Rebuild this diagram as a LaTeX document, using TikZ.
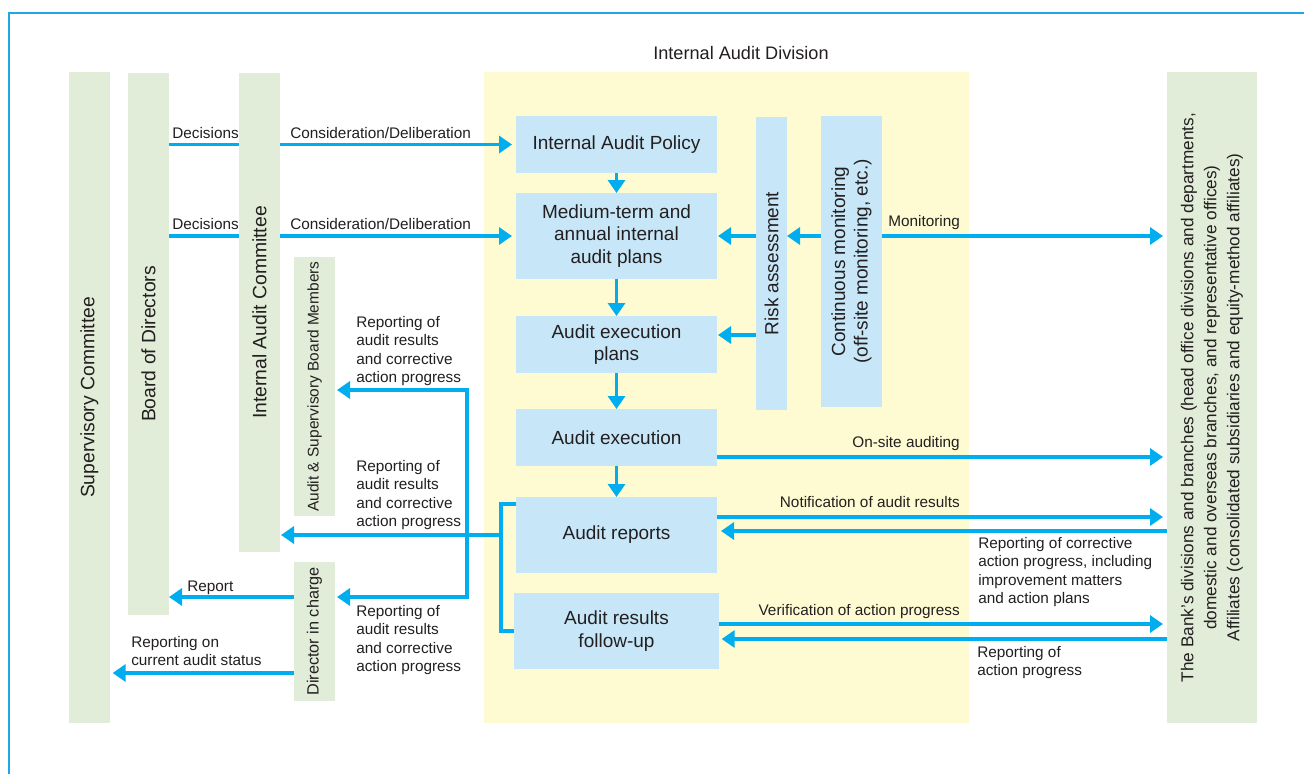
\documentclass[tikz,border=0pt]{standalone}
\usepackage{fontspec}
\setmainfont{Liberation Sans}
\usetikzlibrary{arrows.meta}
\definecolor{arrblue}{HTML}{00AEEF}
\definecolor{framec}{HTML}{1FA8E1}
\definecolor{boxblue}{HTML}{C7E7F8}
\definecolor{colgreen}{HTML}{E1EDD8}
\definecolor{yellowbg}{HTML}{FEFBD2}
\definecolor{txt}{HTML}{231F20}
\newcommand\fBox{\fontsize{14.25}{16.9}\selectfont}
\newcommand\fCol{\fontsize{14.5}{17}\selectfont}
\newcommand\fLbl{\fontsize{11.5}{13.9}\selectfont}
\newcommand\fSmall{\fontsize{11.6}{14}\selectfont}
\newcommand\fDir{\fontsize{12.2}{14}\selectfont}
\newcommand\fBank{\fontsize{12.9}{17.25}\selectfont}
\newcommand\fTitle{\fontsize{13.6}{16}\selectfont}
\begin{document}
\begin{tikzpicture}[x=0.75pt,y=-0.75pt,
  col/.style={fill=colgreen, inner sep=0pt, outer sep=0pt},
  pbox/.style={fill=boxblue, inner sep=0pt, outer sep=0pt, align=center, font=\fBox, text=txt},
  coltxt/.style={rotate=90, inner sep=0pt, font=\fCol, text=txt, align=center},
  lbl/.style={inner sep=0pt, font=\fLbl, text=txt, align=left},
  ln/.style={draw=arrblue, line width=2.5pt},
  arr/.style={ln, -{Triangle[length=9.75pt,width=12.75pt]}}]
\useasboundingbox (0,0) rectangle (1304,774);
\fill[white] (0,0) rectangle (1304,774);
% frame
\draw[framec, line width=1.3pt] (9,774) -- (9,13) -- (1304,13);
% columns
\node[col, minimum width=30.75pt, minimum height=488.25pt] (sup) at (89.5,397.5) {};
\node[coltxt] at (sup.center) {Supervisory Committee};
\node[col, minimum width=30.75pt, minimum height=406.5pt] (bod) at (148.5,344) {};
\node[coltxt] at (bod.center) {Board of Directors};
\node[col, minimum width=30.75pt, minimum height=359.25pt] (iac) at (259.5,312.5) {};
\node[coltxt] at (iac.center) {Internal Audit Committee};
\node[col, minimum width=30.75pt, minimum height=194.25pt] (asb) at (314.5,386.5) {};
\node[coltxt, font=\fSmall] at (asb.center) {Audit \& Supervisory Board Members};
\node[col, minimum width=30.75pt, minimum height=104.25pt] (dic) at (314.5,631.5) {};
\node[coltxt, font=\fDir] at (dic.center) {Director in charge};
\node[fill=yellowbg, inner sep=0pt, outer sep=0pt, minimum width=363.75pt, minimum height=488.25pt] (iad) at (726.5,397.5) {};
\node[lbl, font=\fTitle] at (741,53) {Internal Audit Division};
\node[col, minimum width=67.5pt, minimum height=488.25pt] (bank) at (1212,397.5) {};
\node[coltxt, font=\fBank] at (bank.center) {The Bank's divisions and branches (head office divisions and departments,\\domestic and overseas branches, and representative offices)\\Affiliates (consolidated subsidiaries and equity-method affiliates)};
% process boxes
\node[pbox, minimum width=150.75pt, minimum height=42.75pt] (iap) at (616.5,144.5) {Internal Audit Policy};
\node[pbox, minimum width=150.75pt, minimum height=64.5pt] (mtp) at (616.5,236) {Medium-term and\\annual internal\\audit plans};
\node[pbox, minimum width=150.75pt, minimum height=42.75pt] (aep) at (616.5,344.5) {Audit execution\\plans};
\node[pbox, minimum width=150.75pt, minimum height=42.75pt] (aex) at (616.5,437.5) {Audit execution};
\node[pbox, minimum width=150.75pt, minimum height=57pt] (arp) at (616.5,535) {Audit reports};
\node[pbox, minimum width=153.75pt, minimum height=57pt] (afu) at (616.5,631) {Audit results\\follow-up};
\node[pbox, minimum width=23.25pt, minimum height=219.75pt] (risk) at (771.5,263.5) {};
\node[coltxt, font=\fBox] at (risk.center) {Risk assessment};
\node[pbox, minimum width=45.75pt, minimum height=218.25pt] (cmon) at (851.5,261.5) {};
\node[coltxt, font=\fBox] at (cmon.center) {Continuous monitoring\\(off-site monitoring, etc.)};
% helper coordinates
\coordinate (y335) at (0,335);
\coordinate (y390) at (0,390);
\coordinate (y457) at (0,457);
\coordinate (y517) at (0,517);
\coordinate (y531) at (0,531);
\coordinate (y597) at (0,597);
\coordinate (y624) at (0,624);
\coordinate (y639) at (0,639);
\coordinate (y673) at (0,673);
\coordinate (brT) at (501,504);
\coordinate (sp) at (467,535);
% connectors
\draw[ln] (bod.east |- iap.west) -- (iac.west |- iap.west);
\draw[arr, shorten >=3pt] (iac.east |- iap.west) -- (iap.west);
\draw[ln] (bod.east |- mtp.west) -- (iac.west |- mtp.west);
\draw[arr, shorten >=3pt] (iac.east |- mtp.west) -- (mtp.west);
\draw[arr] (iap.south) -- (mtp.north);
\draw[arr] (mtp.south) -- (aep.north);
\draw[arr] (aep.south) -- (aex.north);
\draw[arr] (aex.south) -- (arp.north);
\draw[arr, shorten >=0.75pt] (risk.west |- mtp.east) -- (mtp.east);
\draw[arr] (cmon.west |- mtp.east) -- (risk.east |- mtp.east);
\draw[arr, shorten >=0.75pt] (risk.west |- y335) -- (aep.east |- y335);
\draw[arr, shorten >=3pt] (cmon.east |- mtp.east) -- (bank.west |- mtp.east);
\draw[arr, shorten >=3pt] (aex.east |- y457) -- (bank.west |- y457);
\draw[arr, shorten >=3pt] (arp.east |- y517) -- (bank.west |- y517);
\draw[arr, shorten >=3pt] (bank.west |- y531) -- (arp.east |- y531);
\draw[arr, shorten >=3pt] (afu.east |- y624) -- (bank.west |- y624);
\draw[arr, shorten >=2pt] (bank.west |- y639) -- (afu.east |- y639);
\draw[ln] (arp.west |- brT) -- (brT) -- (brT |- afu.west) -- (afu.west);
\draw[arr, shorten >=0.75pt] (brT |- arp.west) -- (iac.east |- arp.west);
\draw[arr, shorten >=1.5pt] (sp) |- (asb.east |- y390);
\draw[arr, shorten >=1.5pt] (sp) |- (dic.east |- y597);
\draw[arr] (dic.west |- y597) -- (bod.east |- y597);
\draw[arr, shorten >=2pt] (dic.west |- y673) -- (sup.east |- y673);
% labels
\node[lbl, anchor=base west] at (172,138) {Decisions};
\node[lbl, anchor=base west] at (290,138) {Consideration/Deliberation};
\node[lbl, anchor=base west] at (172,229) {Decisions};
\node[lbl, anchor=base west] at (290,229) {Consideration/Deliberation};
\node[lbl, anchor=base west] at (888,226) {Monitoring};
\node[lbl, anchor=base east] at (960,447) {On-site auditing};
\node[lbl, anchor=base east] at (960,507) {Notification of audit results};
\node[lbl, anchor=base east] at (960,615) {Verification of action progress};
\node[lbl, anchor=north west] at (978,537) {Reporting of corrective\\action progress, including\\improvement matters\\and action plans};
\node[lbl, anchor=north west] at (977,646) {Reporting of\\action progress};
\node[lbl, anchor=north west] at (356,316) {Reporting of\\audit results\\and corrective\\action progress};
\node[lbl, anchor=north west] at (356,460) {Reporting of\\audit results\\and corrective\\action progress};
\node[lbl, anchor=north west] at (356,605) {Reporting of\\audit results\\and corrective\\action progress};
\node[lbl, anchor=base west] at (187,591) {Report};
\node[lbl, anchor=north west] at (131,636) {Reporting on\\current audit status};
\end{tikzpicture}
\end{document}
